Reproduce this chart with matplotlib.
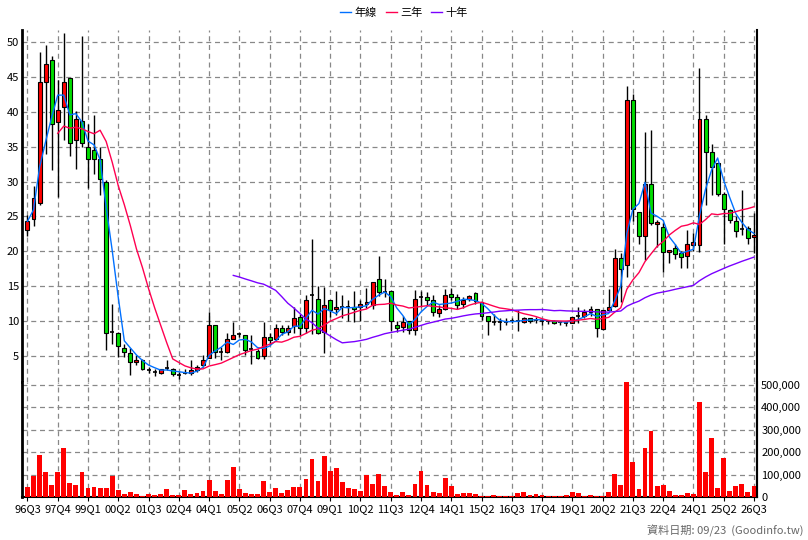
import numpy as np
import pandas as pd
import matplotlib.pyplot as plt

plt.rcParams['font.family'] = ['Noto Sans CJK TC', 'DejaVu Sans']

# quarterly OHLC, 96Q3 .. 26Q3
opens = [23.1, 24.6, 26.9, 44.3, 47.4, 38.5, 40.7, 44.8, 35.9, 38.7, 35.0, 34.5, 33.2, 29.9, 8.5,
         8.3, 6.2, 5.5, 4.2, 4.5, 3.0, 2.7, 2.6, 3.3, 3.2, 2.3, 2.6, 2.6, 3.0, 3.7,
         4.7, 9.4, 5.6, 5.6, 7.5, 8.2, 8.0, 6.0, 5.8, 5.0, 7.7, 7.4, 9.1, 8.5, 9.3,
         10.6, 9.1, 13.7, 13.2, 8.5, 13.0, 11.7, 12.0, 12.0, 12.1, 12.0, 12.4, 12.3, 16.0, 14.2,
         14.3, 9.4, 9.2, 10.0, 8.8, 13.4, 13.4, 13.0, 11.2, 11.8, 13.9, 13.4, 12.4, 13.2, 14.0,
         12.7, 10.7, 9.9, 9.9, 9.9, 10.1, 10.1, 9.9, 10.4, 10.2, 10.0, 10.0, 10.0, 9.9, 9.8,
         9.8, 10.8, 10.7, 11.3, 11.8, 8.9, 11.6, 12.2, 19.0, 18.0, 41.7, 25.6, 22.2, 29.6, 23.9,
         23.5, 19.9, 20.5, 19.7, 19.3, 20.9, 20.9, 39.0, 34.2, 32.6, 28.2, 25.9, 24.3, 23.2, 23.3,
         22.0]
closes = [24.3, 27.6, 44.2, 46.8, 38.2, 40.3, 44.2, 35.5, 38.9, 35.5, 33.3, 33.3, 30.4, 8.3, 8.5,
          6.4, 5.6, 4.2, 4.5, 3.2, 3.0, 2.7, 3.1, 3.3, 2.4, 2.3, 2.6, 3.0, 3.5, 4.5,
          9.4, 5.6, 5.6, 7.5, 8.0, 8.2, 5.9, 6.0, 4.8, 7.7, 7.3, 9.0, 8.5, 9.1, 10.5,
          9.1, 13.0, 13.7, 8.3, 12.3, 11.6, 12.1, 12.0, 12.0, 11.8, 12.4, 12.7, 15.6, 14.2, 14.2,
          10.1, 9.1, 9.9, 8.8, 13.2, 13.4, 13.1, 11.3, 11.8, 13.8, 13.5, 12.3, 13.0, 13.6, 12.9,
          10.8, 10.0, 9.9, 9.9, 9.9, 10.1, 10.1, 10.4, 10.1, 10.3, 10.0, 10.0, 9.8, 9.9, 9.8,
          10.6, 10.8, 11.3, 11.7, 9.0, 11.6, 12.1, 19.0, 17.5, 41.7, 26.0, 22.2, 29.6, 24.1, 24.2,
          19.9, 20.2, 19.6, 19.2, 21.1, 21.3, 38.9, 34.3, 32.1, 28.2, 26.0, 24.5, 22.9, 23.2, 21.9,
          22.3]
highs = [25.2, 29.3, 48.5, 49.6, 48.0, 44.6, 51.3, 44.8, 40.1, 50.9, 38.2, 39.5, 35.0, 30.2, 12.5,
         8.5, 6.8, 6.1, 5.1, 4.6, 3.5, 3.1, 3.2, 4.4, 3.3, 2.8, 3.1, 4.4, 3.8, 5.1,
         11.3, 9.4, 6.3, 8.3, 9.9, 8.5, 8.0, 8.0, 6.0, 9.9, 8.3, 9.6, 9.4, 9.4, 12.0,
         11.0, 13.7, 21.8, 15.1, 14.9, 13.0, 14.4, 13.8, 13.1, 14.4, 13.0, 14.7, 15.6, 19.3, 16.0,
         14.3, 10.1, 10.7, 10.0, 14.5, 14.3, 14.2, 13.8, 12.3, 14.6, 14.8, 13.9, 13.5, 13.8, 14.2,
         12.7, 10.7, 11.0, 10.5, 10.4, 10.5, 11.6, 10.6, 10.5, 10.6, 10.3, 10.2, 10.2, 10.0, 9.9,
         10.6, 12.0, 11.7, 12.2, 11.8, 11.6, 14.6, 20.3, 19.7, 43.7, 42.5, 25.6, 37.1, 37.4, 24.5,
         24.1, 20.2, 21.1, 20.0, 23.0, 22.6, 46.2, 39.6, 35.4, 29.3, 28.5, 26.1, 25.0, 28.8, 23.6,
         25.5]
lows = [22.2, 23.7, 26.7, 34.0, 31.6, 27.8, 36.0, 33.7, 31.8, 35.0, 29.1, 31.1, 28.1, 5.9, 6.8,
        4.9, 4.9, 2.3, 3.8, 3.0, 2.6, 2.2, 2.4, 3.0, 2.1, 1.7, 2.4, 2.3, 2.8, 3.5,
        4.7, 4.7, 4.4, 5.4, 7.7, 7.8, 5.2, 3.9, 4.6, 4.6, 6.7, 7.1, 8.0, 8.0, 8.3,
        8.0, 8.3, 8.2, 8.2, 5.5, 10.6, 10.9, 10.4, 10.1, 9.9, 10.1, 11.9, 11.8, 13.6, 13.4,
        8.6, 8.4, 8.5, 8.2, 8.1, 12.1, 12.3, 10.8, 10.6, 11.6, 13.0, 11.8, 11.9, 12.9, 12.5,
        10.2, 8.1, 9.4, 8.7, 9.4, 9.7, 8.6, 9.7, 9.7, 9.7, 9.5, 9.6, 9.6, 9.5, 9.3,
        9.8, 9.8, 10.5, 10.8, 7.8, 8.8, 11.6, 12.0, 12.8, 16.3, 24.3, 21.1, 18.7, 23.8, 20.7,
        17.1, 18.4, 18.9, 17.6, 17.6, 20.0, 19.9, 26.7, 28.1, 27.9, 21.0, 24.0, 22.1, 22.4, 21.0,
        19.8]
# volume in shares (lots)
volumes = [45, 92, 186, 110, 52, 110, 217, 62, 52, 110, 40, 43, 40, 40, 92,
           33, 12, 21, 12, 4, 12, 7, 12, 34, 9, 9, 30, 12, 16, 27,
           74, 27, 12, 74, 132, 36, 18, 12, 12, 70, 21, 39, 18, 30, 46,
           43, 79, 168, 70, 182, 116, 128, 65, 39, 34, 27, 100, 57, 104, 48,
           21, 7, 21, 9, 57, 115, 52, 22, 16, 83, 48, 12, 16, 16, 12,
           6, 6, 7, 4, 4, 4, 16, 21, 7, 12, 7, 4, 4, 4, 7,
           21, 16, 4, 7, 4, 4, 21, 104, 52, 525, 155, 34, 217, 293, 48,
           52, 25, 9, 9, 18, 12, 423, 110, 262, 39, 176, 25, 48, 57, 22,
           48]
volumes = [v * 1000 for v in volumes]

start_year, start_q = 1996, 3
quarters = []
for k in range(len(closes)):
    q = start_q - 1 + k
    y = start_year + q // 4
    quarters.append(f"{y % 100:02d}Q{q % 4 + 1}")

df = pd.DataFrame({'o': opens, 'h': highs, 'l': lows, 'c': closes, 'v': volumes})
x = np.arange(len(df))

ma1 = df['c'].rolling(4, min_periods=1).mean()
ma3 = df['c'].rolling(12, min_periods=1).mean()
ma10 = df['c'].rolling(40, min_periods=1).mean()

fig = plt.figure(figsize=(8.08, 5.4), dpi=100)
ax = fig.add_axes([22 / 808, 1 - 382 / 540, 735 / 808, 352 / 540])
axv = fig.add_axes([22 / 808, 1 - 497 / 540, 735 / 808, 115 / 540], sharex=ax)

grid_kw = dict(color='#888888', linestyle=(0, (4, 3)), linewidth=0.9)
tick_pos = x[::5]

up = df['c'] >= df['o']
body_w = 0.65
for i in x:
    ax.vlines(i, df['l'][i], df['h'][i], color='black', linewidth=1, zorder=2)
    lo = min(df['o'][i], df['c'][i])
    hgt = abs(df['c'][i] - df['o'][i])
    if hgt < 0.15:
        ax.hlines(lo, i - body_w / 2, i + body_w / 2, color='black', linewidth=1.2, zorder=3)
    else:
        ax.bar(i, hgt, bottom=lo, width=body_w, color='#ff0000' if up[i] else '#00dd00',
               edgecolor='black', linewidth=0.8, zorder=3)

ax.plot(x, ma1, color='#0070ff', linewidth=1, zorder=4)
ax.plot(x[5:], ma3[5:], color='#ff0050', linewidth=1, zorder=4)
ax.plot(x[34:], ma10[34:], color='#7a00ff', linewidth=1, zorder=4)

ax.set_xlim(-0.9, 120.5)
ax.set_ylim(1.3, 51.7)
ax.set_yticks([5, 10, 15, 20, 25, 30, 35, 40, 45, 50])
ax.set_xticks(tick_pos)
ax.grid(True, **grid_kw)
ax.set_axisbelow(True)
ax.tick_params(axis='x', labelbottom=False, length=0)
ax.tick_params(axis='y', length=0, labelsize=8, pad=2)
for s in ['top', 'right', 'bottom']:
    ax.spines[s].set_visible(False)
ax.spines['left'].set_linewidth(2)

axv.bar(x, df['v'], width=0.8, color='#ff0000', zorder=3)
axv.set_ylim(0, 513000)
axv.set_yticks([0, 100000, 200000, 300000, 400000, 500000])
axv.set_yticklabels(['0', '100,000', '200,000', '300,000', '400,000', '500,000'])
axv.yaxis.tick_right()
axv.tick_params(axis='y', length=0, labelsize=8, pad=3)
axv.set_xticks(tick_pos)
axv.set_xticklabels([quarters[i] for i in tick_pos], fontsize=8)
axv.tick_params(axis='x', length=3, pad=2)
axv.grid(True, **grid_kw)
axv.set_axisbelow(True)
axv.spines['top'].set_visible(False)
axv.spines['left'].set_linewidth(2)
axv.spines['bottom'].set_linewidth(1.5)
axv.spines['right'].set_linewidth(1.5)

# right border on price panel too
fig.add_artist(plt.Line2D([757 / 808, 757 / 808], [1 - 497 / 540, 1 - 30 / 540], color='black',
                          linewidth=1.5, transform=fig.transFigure))

handles = [plt.Line2D([], [], color='#0070ff', linewidth=1),
           plt.Line2D([], [], color='#ff0050', linewidth=1),
           plt.Line2D([], [], color='#7a00ff', linewidth=1)]
fig.legend(handles, ['年線', '三年', '十年'], loc='upper center', bbox_to_anchor=(0.5, 1.005),
           ncol=3, frameon=False, fontsize=8, handlelength=1.0, handletextpad=0.3, columnspacing=0.8)

fig.text(0.995, 0.005, '資料日期: 09/23  (Goodinfo.tw)', ha='right', va='bottom', fontsize=8,
         color='#666666')

fig.savefig('out.png', dpi=100)
